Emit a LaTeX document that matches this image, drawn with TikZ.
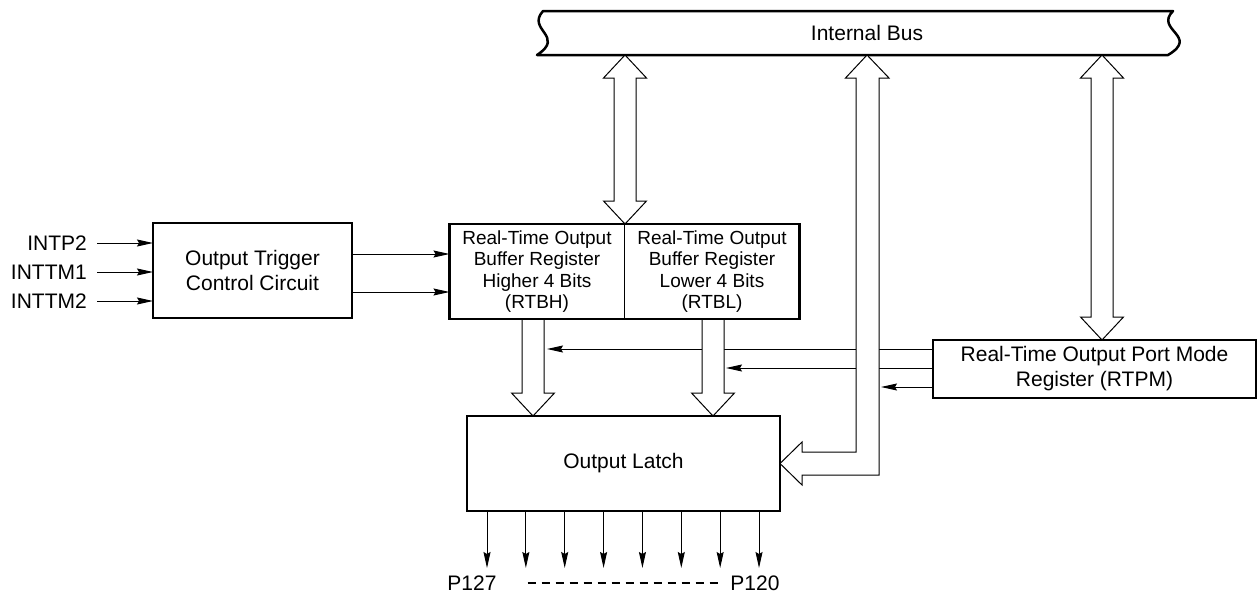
\documentclass[tikz,border=0pt]{standalone}
\usepackage{fontspec}
\setmainfont{Liberation Sans}
\usetikzlibrary{arrows.meta,calc,positioning}

\tikzset{
  box/.style={draw, line width=2.5pt, outer sep=0pt, inner sep=0pt, align=center, font=\fontsize{21}{25}\selectfont},
  regbox/.style={outer sep=0pt, inner sep=0pt, align=center, minimum width=175pt, minimum height=95pt, font=\fontsize{19}{21.5}\selectfont},
  lbl/.style={inner sep=0pt, font=\fontsize{21}{25}\selectfont},
  arr/.style={line width=1pt, -{Stealth[length=16pt,width=7pt,inset=2pt]}},
  blk/.style={draw, fill=white, line width=1pt, line join=miter},
}

% block arrow from a box edge down to a tip
\newcommand\blkdown[2]{\draw[blk] ($(#1)+(-11,0)$) -- ($(#2)+(-11,-23)$) -- ++(-10.5,0) -- (#2) -- ++(21.5,-23) -- ++(-10.5,0) -- ($(#1)+(11,0)$);}
% block arrow with two heads, top tip and bottom tip
\newcommand\blkboth[2]{\draw[blk] (#1) -- ++(21.5,23) -- ++(-10.5,0) -- ($(#2)+(11,-23)$) -- ++(10.5,0) -- (#2) -- ++(-21.5,-23) -- ++(10.5,0) -- ($(#1)+(-11,23)$) -- ++(-10.5,0) -- cycle;}

\begin{document}
\begin{tikzpicture}[x=1pt,y=-1pt]
  \useasboundingbox (0,0) rectangle (1258,597);

  % internal bus
  \draw[line width=2.5pt, line join=round] (543,11) -- (1173,11) .. controls (1154,30) and (1200,36) .. (1168,55) -- (537,55) .. controls (566,36) and (526,30) .. (543,11) -- (545,11);
  \node[lbl] (bus) at (867,33) {Internal Bus};

  % boxes
  \node[box, minimum width=199pt, minimum height=95pt] (trig) at (252.5,270.5) {Output Trigger\\Control Circuit};
  \node[regbox] (rtbh) at (537,271.5) {Real-Time Output\\Buffer Register\\Higher 4 Bits\\(RTBH)};
  \node[regbox, right=0pt of rtbh] (rtbl) {Real-Time Output\\Buffer Register\\Lower 4 Bits\\(RTBL)};
  \draw[line width=2.5pt] (rtbh.north west) rectangle (rtbl.south east);
  \draw[line width=1pt] (rtbh.north east) -- (rtbh.south east);
  \node[box, minimum width=313pt, minimum height=95pt] (latch) at (623.5,463.5) {Output Latch};
  \node[box, minimum width=323pt, minimum height=58pt] (rtpm) at (1094.5,369) {Real-Time Output Port Mode\\Register (RTPM)};

  % interrupt inputs
  \node[lbl, anchor=east] (intp2) at (87,243) {INTP2};
  \node[lbl, anchor=east] (inttm1) at (87,272) {INTTM1};
  \node[lbl, anchor=east] (inttm2) at (87,301) {INTTM2};
  \foreach \n in {intp2,inttm1,inttm2}
    \draw[arr] ([xshift=10pt]\n.east) -- (\n.east -| trig.west);

  % trigger to buffer register
  \coordinate (t1) at ([yshift=16.5pt]trig.east);
  \coordinate (t2) at ([yshift=-21.5pt]trig.east);
  \draw[arr] (t1) -- (t1 -| rtbh.west);
  \draw[arr] (t2) -- (t2 -| rtbh.west);

  % columns of the block arrows
  \coordinate (rcol) at (625,55);
  \coordinate (bcol) at (867,55);
  \coordinate (pcol) at (1102,55);
  \coordinate (hcol) at (533,320);
  \coordinate (lcol) at (713,320);
  \coordinate (rend) at (rcol |- rtbh.north);
  \coordinate (pend) at (pcol |- rtpm.north);
  \coordinate (htip) at (hcol |- latch.north);
  \coordinate (ltip) at (lcol |- latch.north);

  % mode register lines
  \coordinate (m1) at ([yshift=20pt]rtpm.west);
  \coordinate (m2) at ([yshift=1pt]rtpm.west);
  \coordinate (m3) at ([yshift=-18pt]rtpm.west);
  \draw[arr] (m1) -- ($(m1 -| hcol)+(14,0)$);
  \draw[arr] (m2) -- ($(m2 -| lcol)+(13,0)$);
  \draw[arr] (m3) -- ($(m3 -| bcol)+(14,0)$);

  % block arrows
  \blkboth{rcol}{rend}
  \blkboth{pcol}{pend}
  \blkdown{hcol}{htip}
  \blkdown{lcol}{ltip}
  \draw[blk] (bcol) -- ++(22,23) -- ++(-10,0) |- ($(latch.east)+(22,11.5)$) -- ++(0,10) -- (latch.east) -- ++(22,-21.5) -- ++(0,10) -| ($(bcol)+(-11,23)$) -- ++(-10.5,0) -- cycle;

  % port outputs
  \foreach \i in {0,...,7}
    \draw[arr] ($(latch.south west)+(20+38.86*\i,0)$) -- ++(0,57);
  \node[lbl] (p127) at (472,583) {P127};
  \node[lbl] (p120) at (755,583) {P120};
  \draw[line width=1.2pt, dash pattern=on 8pt off 6pt] ([xshift=31pt]p127.east) -- ([xshift=-7pt]p120.west);
\end{tikzpicture}
\end{document}
